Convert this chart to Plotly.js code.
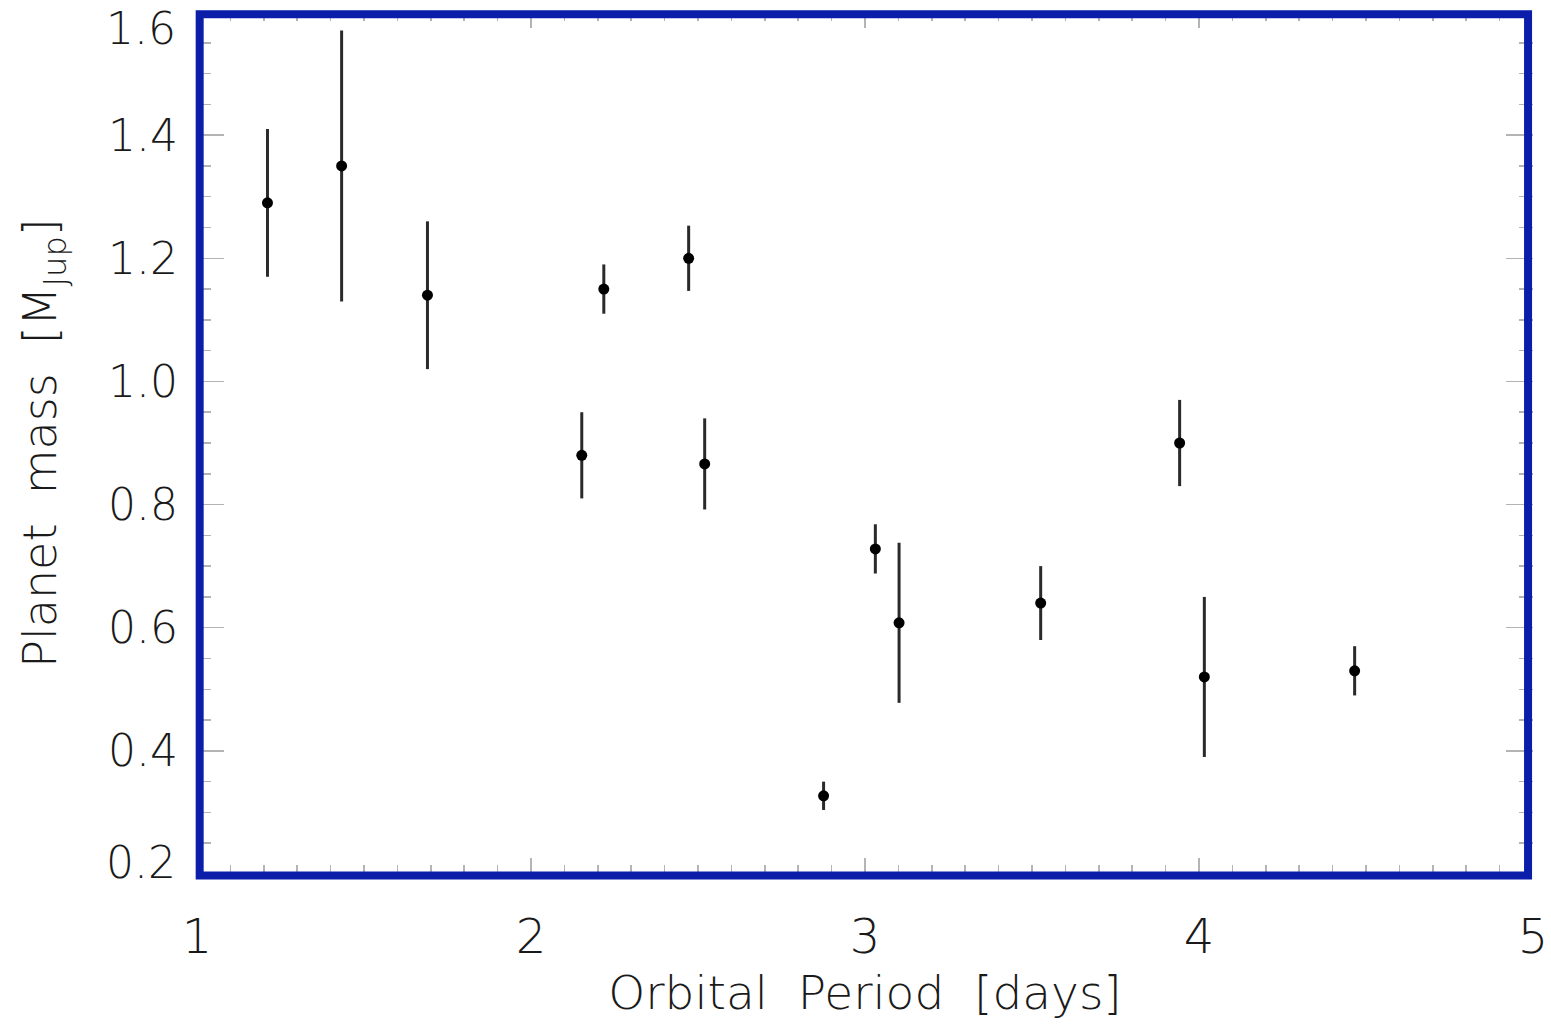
<!DOCTYPE html>
<html>
<head>
<meta charset="utf-8">
<script src="https://cdn.plot.ly/plotly-3.0.1.min.js"></script>
<style>html,body{margin:0;padding:0;background:#fff;}#chart{width:1551px;height:1026px;}</style>
</head>
<body>
<div id="chart"></div>
<script>
// Orbital period [days]
const period = [1.211, 1.433, 1.690, 2.152, 2.218, 2.472, 2.520, 2.876, 3.031, 3.102, 3.526, 3.942, 4.016, 4.466];
// Planet mass [M_Jup]
const mass = [1.29, 1.35, 1.14, 0.88, 1.15, 1.20, 0.866, 0.327, 0.728, 0.608, 0.64, 0.90, 0.52, 0.53];
// Symmetric mass uncertainty
const massErr = [0.12, 0.22, 0.12, 0.07, 0.04, 0.053, 0.074, 0.023, 0.04, 0.13, 0.06, 0.07, 0.13, 0.04];

const xTickVals = [1, 2, 3, 4, 5];
const xTickText = ['1', '2', '3', '4', '5'];
const yTickVals = [0.2, 0.4, 0.6, 0.8, 1.0, 1.2, 1.4, 1.6];
const yTickText = ['0.2', '0.4', '0.6', '0.8', '1.0', '1.2', '1.4', '1.6'];

const FONT = 'DejaVu Sans, Liberation Sans, sans-serif';
const W = 200;
const TXT = '#1a1a1a';
const TICKC = '#b4b4b4';

// end labels (0.2 and 1.6) are nudged inside the figure as in the original
const endIdx = [0, yTickVals.length - 1];
const innerIdx = yTickVals.map((v, i) => i).filter(i => !endIdx.includes(i));
const endAnnotations = endIdx.map(i => ({
  xref: 'paper', yref: 'y', x: 0, y: yTickVals[i],
  text: yTickText[i], showarrow: false,
  xanchor: 'right', yanchor: 'middle', xshift: -19,
  yshift: i === 0 ? 12 : -16,
  font: {family: FONT, size: 44, color: TXT, weight: W}
}));

const trace = {
  type: 'scatter', mode: 'markers',
  x: period, y: mass,
  marker: {color: '#000', size: 11},
  error_y: {type: 'data', array: massErr, visible: true, color: '#2a2a2a', thickness: 3, width: 0},
  hoverinfo: 'x+y'
};

const layout = {
  width: 1551, height: 1026,
  margin: {l: 197.3, r: 18, t: 11.7, b: 151.9},
  paper_bgcolor: '#fff', plot_bgcolor: '#fff',
  showlegend: false,
  xaxis: {
    range: [1, 5], tickvals: xTickVals, ticktext: xTickText,
    ticks: 'inside', ticklen: 16, tickwidth: 1.5, tickcolor: TICKC,
    mirror: 'ticks', showgrid: false, zeroline: false, showline: false,
    minor: {dtick: 0.1, ticks: 'inside', ticklen: 9, tickwidth: 1.5, tickcolor: TICKC, showgrid: false},
    tickfont: {family: FONT, size: 48, color: TXT, weight: W},
    ticklabelstandoff: 30,
    title: {text: 'Orbital&nbsp; Period&nbsp; [days]', font: {family: FONT, size: 47, color: TXT, weight: W}, standoff: 13},
    automargin: false
  },
  yaxis: {
    range: [0.2, 1.6],
    tickvals: innerIdx.map(i => yTickVals[i]),
    ticktext: innerIdx.map(i => yTickText[i]),
    ticks: 'inside', ticklen: 27, tickwidth: 1.5, tickcolor: TICKC,
    mirror: 'ticks', showgrid: false, zeroline: false, showline: false,
    minor: {tickvals: [0.25, 0.3, 0.35, 0.45, 0.5, 0.55, 0.65, 0.7, 0.75, 0.85, 0.9, 0.95, 1.05, 1.1, 1.15, 1.25, 1.3, 1.35, 1.45, 1.5, 1.55],
            ticks: 'inside', ticklen: 14, tickwidth: 1.5, tickcolor: TICKC, showgrid: false},
    tickfont: {family: FONT, size: 44, color: TXT, weight: W},
    ticklabelstandoff: 18,
    title: {text: 'Planet&nbsp; mass&nbsp; [M<sub>Jup</sub>]', font: {family: FONT, size: 46, color: TXT, weight: W}, standoff: 36},
    automargin: false
  },
  shapes: [{
    type: 'rect', xref: 'paper', yref: 'paper',
    x0: 0.002, x1: 0.9963, y0: -0.0016, y1: 0.9973,
    line: {color: '#0a1eaa', width: 8}, fillcolor: 'rgba(0,0,0,0)', layer: 'above'
  }],
  annotations: endAnnotations
};

Plotly.newPlot('chart', [trace], layout, {displayModeBar: false, staticPlot: true});
</script>
</body>
</html>
